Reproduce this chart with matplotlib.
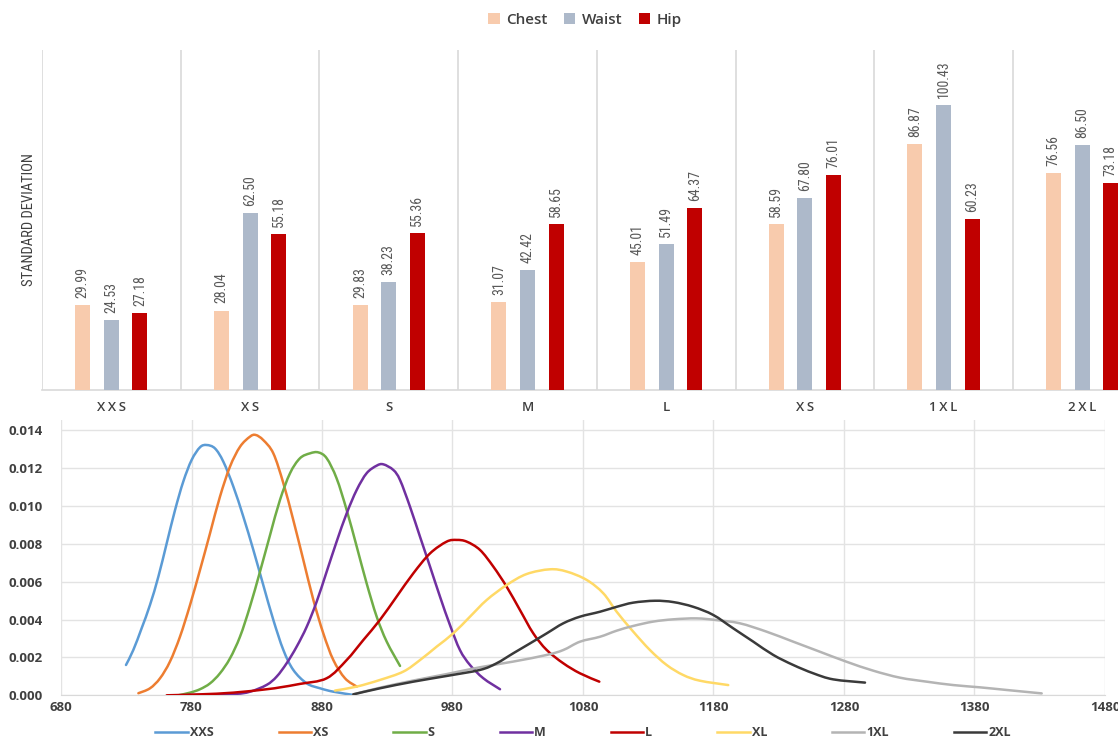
import matplotlib
matplotlib.use("Agg")
import matplotlib.pyplot as plt
from matplotlib.patches import Patch, PathPatch
from matplotlib.lines import Line2D
from matplotlib.path import Path
from matplotlib import font_manager
import numpy as np

# ---------------- data ----------------
sizes = ["XXS", "XS", "S", "M", "L", "XS", "1XL", "2XL"]
chest = [29.99, 28.04, 29.83, 31.07, 45.01, 58.59, 86.87, 76.56]
waist = [24.53, 62.50, 38.23, 42.42, 51.49, 67.80, 100.43, 86.50]
hip = [27.18, 55.18, 55.36, 58.65, 64.37, 76.01, 60.23, 73.18]

xxs_x = [729.8, 735.4, 741.8, 748.2, 754.6, 761.0, 767.4, 773.7, 780.1, 786.5, 791.6, 798.0, 804.4,
         812.1, 819.7, 827.4, 835.0, 842.7, 850.4, 858.0, 868.3, 878.5, 888.7, 904.0]
xxs_y = [0.0016, 0.00239, 0.00354, 0.00477, 0.00626, 0.00802, 0.00978, 0.01128, 0.01242, 0.01309,
         0.01321, 0.01303, 0.01233, 0.01101, 0.00943, 0.00767, 0.00582, 0.00398, 0.00239, 0.00134,
         0.00063, 0.00037, 0.00019, 0.00002]

xs_x = [739.3, 748.2, 755.9, 763.5, 771.2, 778.9, 786.5, 794.2, 801.8, 809.5, 817.2, 824.8, 829.2,
        835.0, 842.7, 850.4, 858.0, 865.7, 873.4, 881.0, 888.7, 897.6, 906.6]
xs_y = [0.00011, 0.00037, 0.0009, 0.00178, 0.0031, 0.00477, 0.00661, 0.00855, 0.01048, 0.01207,
        0.01312, 0.01365, 0.01374, 0.01347, 0.01277, 0.01119, 0.00925, 0.00714, 0.00503, 0.00327,
        0.00186, 0.0009, 0.00046]

s_x = [769.9, 778.9, 786.5, 794.2, 801.8, 809.5, 817.2, 824.8, 832.5, 840.2, 847.8, 855.5, 863.1,
       870.8, 877.2, 883.6, 891.2, 898.9, 906.6, 914.2, 921.9, 929.6, 939.8]
s_y = [0.0, 0.00014, 0.00032, 0.00063, 0.00116, 0.00195, 0.0031, 0.00468, 0.00653, 0.00846, 0.01031,
       0.01172, 0.01251, 0.01277, 0.01282, 0.01251, 0.01145, 0.00978, 0.00785, 0.00591, 0.00415,
       0.00283, 0.00155]

m_x = [770.0, 812.1, 824.8, 837.6, 845.3, 852.9, 860.6, 868.3, 875.9, 883.6, 891.2, 898.9, 906.6,
       914.2, 921.9, 927.0, 934.7, 939.8, 947.4, 955.1, 962.8, 970.4, 978.1, 985.7, 993.4, 1003.6,
       1016.4]
m_y = [0.0, 0.00007, 0.00019, 0.00055, 0.00099, 0.00169, 0.00257, 0.00362, 0.00494, 0.00653, 0.00811,
       0.0096, 0.01084, 0.01172, 0.01212, 0.01219, 0.01189, 0.01136, 0.00996, 0.00837, 0.00679,
       0.00521, 0.0037, 0.00239, 0.0016, 0.0009, 0.00032]

l_x = [761.0, 786.5, 812.1, 837.6, 848.0, 863.0, 883.6, 898.9, 911.7, 924.4, 937.2, 950.0, 962.8,
       975.5, 983.2, 990.9, 1001.1, 1011.3, 1021.5, 1031.7, 1041.9, 1052.2, 1064.9, 1077.7, 1092.5]
l_y = [0.0, 0.00005, 0.00014, 0.00032, 0.00042, 0.0006, 0.0009, 0.00186, 0.00292, 0.00398, 0.00521,
       0.00644, 0.00749, 0.00811, 0.0082, 0.00811, 0.00767, 0.00679, 0.00573, 0.0045, 0.00327,
       0.00239, 0.00169, 0.00116, 0.00072]

xl_x = [890.0, 906.6, 924.4, 942.3, 955.1, 967.9, 980.6, 993.4, 1006.2, 1021.5, 1036.8, 1054.7,
        1067.5, 1082.8, 1095.6, 1105.8, 1118.5, 1131.3, 1144.1, 1156.8, 1169.6, 1191.3]
xl_y = [0.00025, 0.00046, 0.00081, 0.00125, 0.00186, 0.00257, 0.00327, 0.00415, 0.00503, 0.00582,
        0.0064, 0.00665, 0.00653, 0.00609, 0.00538, 0.00441, 0.00336, 0.00239, 0.0016, 0.00107,
        0.00077, 0.00054]

x1xl_x = [904.0, 924.4, 950.0, 975.5, 1001.1, 1026.6, 1052.2, 1064.9, 1077.7, 1093.0, 1105.8, 1118.5,
          1133.8, 1149.2, 1167.0, 1182.3, 1200.2, 1220.6, 1241.1, 1261.5, 1282.0, 1302.4, 1322.9,
          1343.3, 1363.8, 1384.2, 1404.7, 1431.5]
x1xl_y = [0.00005, 0.0004, 0.00078, 0.00112, 0.00148, 0.00178, 0.00213, 0.00239, 0.00283, 0.00309,
          0.00341, 0.00366, 0.00389, 0.00401, 0.00406, 0.00397, 0.0038, 0.00336, 0.00283, 0.0023,
          0.00177, 0.0013, 0.00093, 0.00072, 0.00054, 0.00042, 0.00028, 0.0001]

x2xl_x = [904.0, 924.4, 950.0, 975.5, 1001.1, 1013.8, 1026.6, 1039.4, 1052.2, 1064.9, 1077.7, 1093.0,
          1105.8, 1118.5, 1135.1, 1149.2, 1164.5, 1179.8, 1195.2, 1210.5, 1225.8, 1241.1, 1256.5,
          1271.8, 1296.1]
x2xl_y = [0.00005, 0.00037, 0.00072, 0.00102, 0.00134, 0.00169, 0.00222, 0.00274, 0.00327, 0.0038,
          0.00415, 0.00441, 0.00467, 0.00489, 0.00499, 0.00492, 0.00467, 0.00424, 0.00353, 0.00283,
          0.00213, 0.0016, 0.00116, 0.00084, 0.00067]

curve_names = ["XXS", "XS", "S", "M", "L", "XL", "1XL", "2XL"]
curve_colors = ["#5B9BD5", "#ED7D31", "#70AD47", "#7030A0", "#C00000", "#FFD966", "#B4B4B4", "#3A3A3A"]
xticks_bottom = [680, 780, 880, 980, 1080, 1180, 1280, 1380, 1480]
yticks_bottom = [0.000, 0.002, 0.004, 0.006, 0.008, 0.010, 0.012, 0.014]

# ---------------- fonts ----------------
names = {f.name for f in font_manager.fontManager.ttflist}
narrow = next((n for n in ["Liberation Sans Narrow", "Roboto Condensed", "Open Sans Condensed"] if n in names), None)
narrow_kw = {"family": narrow} if narrow else {"family": "DejaVu Sans", "fontstretch": "condensed"}
ui_font = "Open Sans" if "Open Sans" in names else "DejaVu Sans"


def smooth_path(xv, yv):
    """Excel-like smoothed line: cubic Bezier segments through the given points."""
    p = np.column_stack([xv, yv]).astype(float)
    n = len(p)
    verts = [p[0]]
    codes = [Path.MOVETO]
    for i in range(n - 1):
        p0 = p[i - 1] if i > 0 else p[i]
        p1, p2 = p[i], p[i + 1]
        p3 = p[i + 2] if i + 2 < n else p[i + 1]
        c1 = p1 + (p2 - p0) / 6.0
        c2 = p2 - (p3 - p1) / 6.0
        verts += [c1, c2, p2]
        codes += [Path.CURVE4] * 3
    return Path(verts, codes)


W, H = 1118, 740
fig = plt.figure(figsize=(W / 100, H / 100), dpi=100)
fig.patch.set_facecolor("white")

# ---------------- top bar chart ----------------
left_px, cat_w = 42, 138.7
ax1 = fig.add_axes([left_px / W, 1 - 390 / H, (W - left_px) / W, (390 - 50) / H])
xs = np.arange(len(sizes))
bw, step = 0.108, 0.206
series = [(chest, "#F8CBAD", "Chest"), (waist, "#ADB9CA", "Waist"), (hip, "#C00000", "Hip")]
for k, (vals, col, name) in enumerate(series):
    pos = xs + (k - 1) * step
    ax1.bar(pos, vals, width=bw, color=col, zorder=3)
    for p, v in zip(pos, vals):
        ax1.text(p, v + 2.5, f"{v:.2f}", rotation=90, ha="center", va="bottom",
                 fontsize=10, color="#595959", **narrow_kw)
ax1.set_xlim(-0.5, -0.5 + (W - left_px) / cat_w)
ax1.set_ylim(0, 120)
for b in np.arange(len(sizes)) - 0.5:
    ax1.axvline(b, color="#D9D9D9", lw=1.2, zorder=1)
for sp in ["top", "right", "left"]:
    ax1.spines[sp].set_visible(False)
ax1.spines["bottom"].set_color("#D9D9D9")
ax1.spines["bottom"].set_linewidth(1.2)
ax1.set_yticks([])
ax1.set_xticks(xs)
ax1.set_xticklabels(["\u2009".join(s) for s in sizes], fontsize=9.5, color="#404040",
                    family=ui_font, fontweight="semibold")
ax1.tick_params(axis="x", length=0, pad=8)
ax1.set_ylabel("STANDARD DEVIATION", fontsize=10.5, color="#404040", **narrow_kw)
ax1.yaxis.set_label_coords(-6 / (W - left_px), 0.5)

leg_handles = [Patch(facecolor=c, edgecolor="none", label=n) for _, c, n in series]
fig.legend(handles=leg_handles, loc="center", bbox_to_anchor=(585 / W, 1 - 20 / H), ncol=3,
           frameon=False, handlelength=0.75, handleheight=0.75, handletextpad=0.4,
           columnspacing=1.1, prop={"family": ui_font, "size": 11, "weight": "semibold"},
           labelcolor="#404040")

# ---------------- bottom density chart ----------------
ax2 = fig.add_axes([61 / W, 1 - 695.3 / H, (1105 - 61) / W, (695.3 - 420) / H])
curves = [(xxs_x, xxs_y), (xs_x, xs_y), (s_x, s_y), (m_x, m_y), (l_x, l_y), (xl_x, xl_y),
          (x1xl_x, x1xl_y), (x2xl_x, x2xl_y)]
order = [6, 7, 5, 4, 3, 2, 1, 0]
for i in order:
    cx, cy = curves[i]
    patch = PathPatch(smooth_path(cx, cy), facecolor="none", edgecolor=curve_colors[i],
                      lw=1.8, capstyle="round", joinstyle="round", zorder=3 + i)
    ax2.add_patch(patch)
ax2.set_xlim(680, 1480)
ax2.set_ylim(0, 0.01453)
ax2.set_xticks(xticks_bottom)
ax2.set_yticks(yticks_bottom)
ax2.set_yticklabels([f"{v:.3f}" for v in yticks_bottom])
ax2.grid(True, color="#E3E3E3", lw=1.0, zorder=0)
for sp in ["top", "right", "left"]:
    ax2.spines[sp].set_visible(False)
ax2.spines["bottom"].set_color("#D9D9D9")
ax2.tick_params(length=0, labelsize=9.5, labelcolor="#404040", pad=4)
ax2.tick_params(axis="y", pad=13)
for lab in ax2.get_xticklabels() + ax2.get_yticklabels():
    lab.set_fontweight("bold")
    lab.set_family(ui_font)

leg2_handles = [Line2D([0], [0], color=curve_colors[i], lw=1.8, label=curve_names[i]) for i in range(8)]
fig.legend(handles=leg2_handles, loc="center", bbox_to_anchor=(583 / W, 1 - 733 / H), ncol=8,
           frameon=False, handlelength=2.6, handletextpad=0.15, columnspacing=5.2,
           prop={"family": ui_font, "size": 9, "weight": "bold"}, labelcolor="#404040")

fig.savefig("out.png", dpi=100)
